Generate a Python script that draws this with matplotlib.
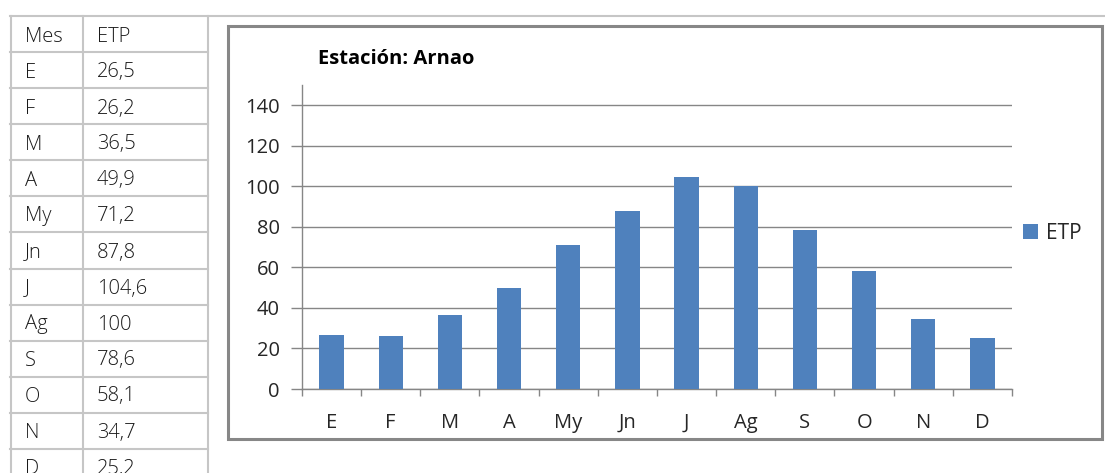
import matplotlib
matplotlib.use("Agg")
import matplotlib.pyplot as plt
from matplotlib.lines import Line2D
from matplotlib.patches import Rectangle

months = ["E", "F", "M", "A", "My", "Jn", "J", "Ag", "S", "O", "N", "D"]
etp = [26.5, 26.2, 36.5, 49.9, 71.2, 87.8, 104.6, 100, 78.6, 58.1, 34.7, 25.2]
etp_labels = ["26,5", "26,2", "36,5", "49,9", "71,2", "87,8", "104,6", "100", "78,6", "58,1", "34,7", "25,2"]
yticks = [0, 20, 40, 60, 80, 100, 120, 140]
title = "Estación: Arnao"
series_name = "ETP"

W, H = 1105, 473
fig = plt.figure(figsize=(W / 100, H / 100), dpi=100)
fig.patch.set_facecolor("white")

def fx(x):
    return x / W

def fy(y):
    return 1 - y / H

grid_c = "#c6c6c6"
txt_c = "#262626"
FONT = "Open Sans"

# spreadsheet/table lines
fig.add_artist(Line2D([fx(10), fx(1105)], [fy(16.5), fy(16.5)], color=grid_c, lw=1.5))
for x in [10.5, 83, 208]:
    fig.add_artist(Line2D([fx(x), fx(x)], [fy(16.5), fy(473)], color=grid_c, lw=1.5))
row_h = 36
for i in range(1, 14):
    y = 16.5 + i * row_h
    fig.add_artist(Line2D([fx(10), fx(208)], [fy(y), fy(y)], color=grid_c, lw=1.5))

rows = [("Mes", "ETP")] + list(zip(months, etp_labels))
for i, (m, v) in enumerate(rows):
    yc = 16.5 + i * row_h + row_h / 2 + 2
    fig.text(fx(25), fy(yc), m, fontsize=14.5, family=FONT, fontweight="light", color="#1a1a1a", va="center", ha="left")
    fig.text(fx(97), fy(yc), v, fontsize=14.5, family=FONT, fontweight="light", color="#1a1a1a", va="center", ha="left")

# chart frame
fig.add_artist(Rectangle((fx(228), fy(439)), fx(1102) - fx(228), fy(26) - fy(439),
                         fill=False, edgecolor="#878787", lw=2.2))

# axes
ax = fig.add_axes([fx(302), fy(389), fx(1012) - fx(302), fy(85) - fy(389)])
x = list(range(len(months)))
bars = ax.bar(x, etp, width=0.41, color="#4f81bd", label=series_name, zorder=3)
ax.set_xlim(-0.5, len(months) - 0.5)
ax.set_ylim(0, 150)
ax.set_yticks(yticks)
ax.set_yticklabels([str(t) for t in yticks], fontsize=14.5, family=FONT, color=txt_c)
ax.set_xticks(x)
ax.set_xticklabels(months, fontsize=14.5, family=FONT, color=txt_c)
ax.set_xticks([i - 0.5 for i in range(len(months) + 1)], minor=True)
ax.tick_params(axis="x", which="major", length=0, pad=17)
ax.tick_params(axis="x", which="minor", length=5, color="#868686", width=1, direction="out")
ax.tick_params(axis="y", length=8, color="#868686", width=1, pad=8)
for s in ["top", "right"]:
    ax.spines[s].set_visible(False)
for s in ["left", "bottom"]:
    ax.spines[s].set_color("#868686")
    ax.spines[s].set_linewidth(1)
ax.yaxis.grid(True, color="#868686", lw=1, zorder=0)
ax.set_axisbelow(True)

fig.text(fx(318), fy(59), title, fontsize=14.5, family=FONT, fontweight="bold", color="black", va="center", ha="left")

fig.legend(handles=[bars], labels=[series_name], loc="center left", bbox_to_anchor=(fx(1004), fy(233)),
           frameon=False, prop={"family": FONT, "size": 15}, handlelength=0.75, handleheight=0.75,
           handletextpad=0.35, labelcolor=txt_c)

fig.savefig("out.png", dpi=100, facecolor="white")
